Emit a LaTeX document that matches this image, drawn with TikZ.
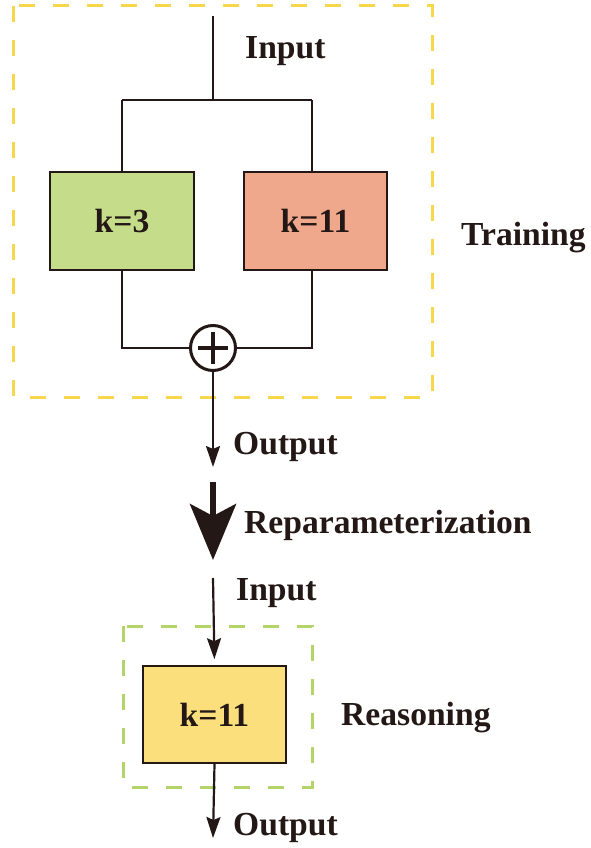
\documentclass[tikz,border=0pt]{standalone}
\usepackage{fontspec}
\setmainfont{Liberation Serif}
\usetikzlibrary{arrows.meta}
\definecolor{ink}{HTML}{231815}
\definecolor{boxgreen}{HTML}{C5DD8A}
\definecolor{boxred}{HTML}{EFA88C}
\definecolor{boxyellow}{HTML}{FBDF7D}
\definecolor{dashyellow}{HTML}{F9D74C}
\definecolor{dashgreen}{HTML}{B4D46A}
\tikzset{
  lbl/.style={font=\fontsize{33.6}{40}\selectfont\bfseries, text=ink, inner sep=0pt, anchor=base west},
  kbox/.style={draw=ink, line width=1.6pt, font=\fontsize{33.6}{40}\selectfont\bfseries, text=ink, inner sep=0pt},
  wire/.style={draw=ink, line width=2.2pt},
  arr/.style={wire, -{Stealth[length=21pt,width=14pt,inset=3pt]}},
  frame/.style={line width=3pt, dash pattern=on 16pt off 18pt},
}
\begin{document}
\begin{tikzpicture}[x=1pt,y=-1pt]
\useasboundingbox (0,0) rectangle (590,848);
% frames
\draw[frame, draw=dashyellow] (13,6) rectangle (432,397);
\draw[frame, draw=dashgreen] (123,626) rectangle (312,787);
% boxes
\node[kbox, fill=boxgreen, minimum width=144pt, minimum height=98pt] (g) at (122,221) {k=3};
\node[kbox, fill=boxred, minimum width=143pt, minimum height=98pt] (r) at (315.5,221) {k=11};
\node[kbox, fill=boxyellow, minimum width=143pt, minimum height=97pt] (k) at (214.5,714.5) {k=11};
% sum node
\node[circle, draw=ink, line width=3pt, minimum size=45pt, inner sep=0pt] (plus) at (213,348) {};
\draw[ink, line width=3.2pt] ([xshift=-15pt]plus.center) -- ([xshift=15pt]plus.center);
\draw[ink, line width=3.2pt] ([yshift=-16pt]plus.center) -- ([yshift=16pt]plus.center);
% coordinates
\coordinate (in1) at (213,16);
\coordinate (split) at (213,100);
\coordinate (lsplit) at (122,100);
\coordinate (rsplit) at (312,100);
\coordinate (out1) at (213,467);
\coordinate (rp1) at (213,482);
\coordinate (rp2) at (213,560);
\coordinate (in2) at (213,578);
\coordinate (out2) at (213,838);
% wires
\draw[wire] (in1) -- (split);
\draw[wire] (lsplit) -- (rsplit);
\draw[wire] (lsplit) -- (g.north);
\draw[wire] (rsplit) -- (rsplit |- r.north);
\draw[wire] (g.south) |- (plus.west);
\draw[wire] (rsplit |- r.south) |- (plus.east);
\draw[arr] (plus.south) -- (out1);
\draw[ink, line width=6pt, -{Stealth[length=56pt,width=46pt,inset=12pt]}] (rp1) -- (rp2);
\draw[arr, shorten >=6pt] (in2) -- (k.north);
\draw[arr] (k.south) -- (out2);
% labels
\node[lbl] (tin1) at (245,59) {Input};
\node[lbl] (ttrain) at (461,245) {Training};
\node[lbl] (tout1) at (233,454) {Output};
\node[lbl] (trep) at (244,533) {Reparameterization};
\node[lbl] (tin2) at (236,600) {Input};
\node[lbl] (treas) at (341,725) {Reasoning};
\node[lbl] (tout2) at (233,835) {Output};
\end{tikzpicture}
\end{document}
